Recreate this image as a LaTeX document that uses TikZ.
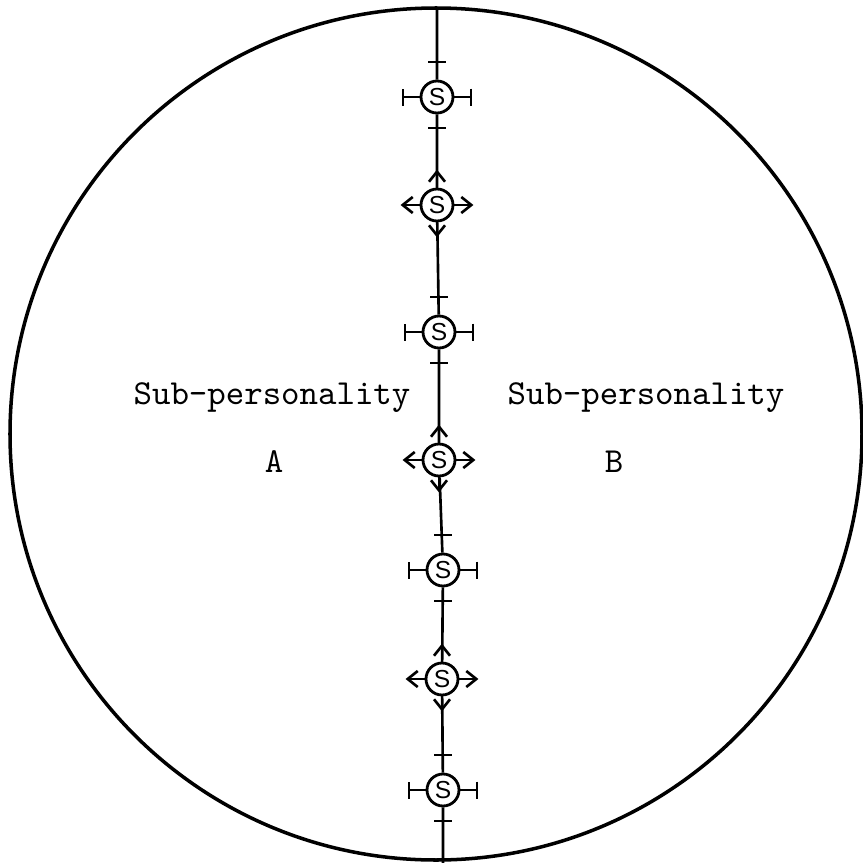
\documentclass[tikz,border=0pt]{standalone}
\usepackage{fontspec}
\newfontfamily\sfont{Liberation Sans}
\usetikzlibrary{arrows.meta,positioning}

\begin{document}
\begin{tikzpicture}[
  snode/.style={circle,draw,fill=white,thick,minimum size=0.32cm,inner sep=0pt,
                font=\sfont\fontsize{7}{8}\selectfont},
  lbl/.style={font=\ttfamily\fontsize{10}{12}\selectfont,inner sep=0pt},
  barm/.style={line width=0.75pt,-{Bar[width=0.17cm,line width=0.8pt]}},
  aarm/.style={line width=0.75pt,-{Straight Barb[length=0.1cm,width=0.16cm,line width=0.75pt]}}]
  \useasboundingbox (0,0) rectangle (8.62,-8.63);
  \draw[line width=1pt] (4.36,-4.34) circle (4.26);
  % the self nodes on the dividing line
  \coordinate (top) at (4.37,-0.08);
  \coordinate (bot) at (4.43,-8.63);
  \node[snode] (s1) at (4.37,-0.97){S};
  \node[snode] (s2) at (4.37,-2.05){S};
  \node[snode] (s3) at (4.39,-3.32){S};
  \node[snode] (s4) at (4.39,-4.60){S};
  \node[snode] (s5) at (4.43,-5.70){S};
  \node[snode] (s6) at (4.42,-6.79){S};
  \node[snode] (s7) at (4.43,-7.90){S};
  \draw[line width=0.75pt] (top)--(s1)--(s2)--(s3)--(s4)--(s5)--(s6)--(s7)--(bot);
  % barred selves
  \foreach \n in {s1,s3,s5,s7}{
    \draw[barm] (\n.east)--++(0.18,0);
    \draw[barm] (\n.west)--++(-0.18,0);
    \draw[line width=0.75pt] ([shift={(-0.09,0.35)}]\n.center)--++(0.18,0);
    \draw[line width=0.75pt] ([shift={(-0.09,-0.31)}]\n.center)--++(0.18,0);
  }
  % open selves
  \foreach \n in {s2,s4,s6}{
    \draw[aarm] (\n.east)--++(0.19,0);
    \draw[aarm] (\n.west)--++(-0.19,0);
    \draw[aarm] (\n.north)--++(0,0.18);
    \draw[aarm] (\n.south)--++(0,-0.15);
  }
  \node[lbl] (subA) at (2.72,-3.98){Sub-personality};
  \node[lbl] (labA) at (2.74,-4.62){A};
  \node[lbl] (subB) at (6.46,-3.98){Sub-personality};
  \node[lbl] (labB) at (6.14,-4.62){B};
\end{tikzpicture}
\end{document}
